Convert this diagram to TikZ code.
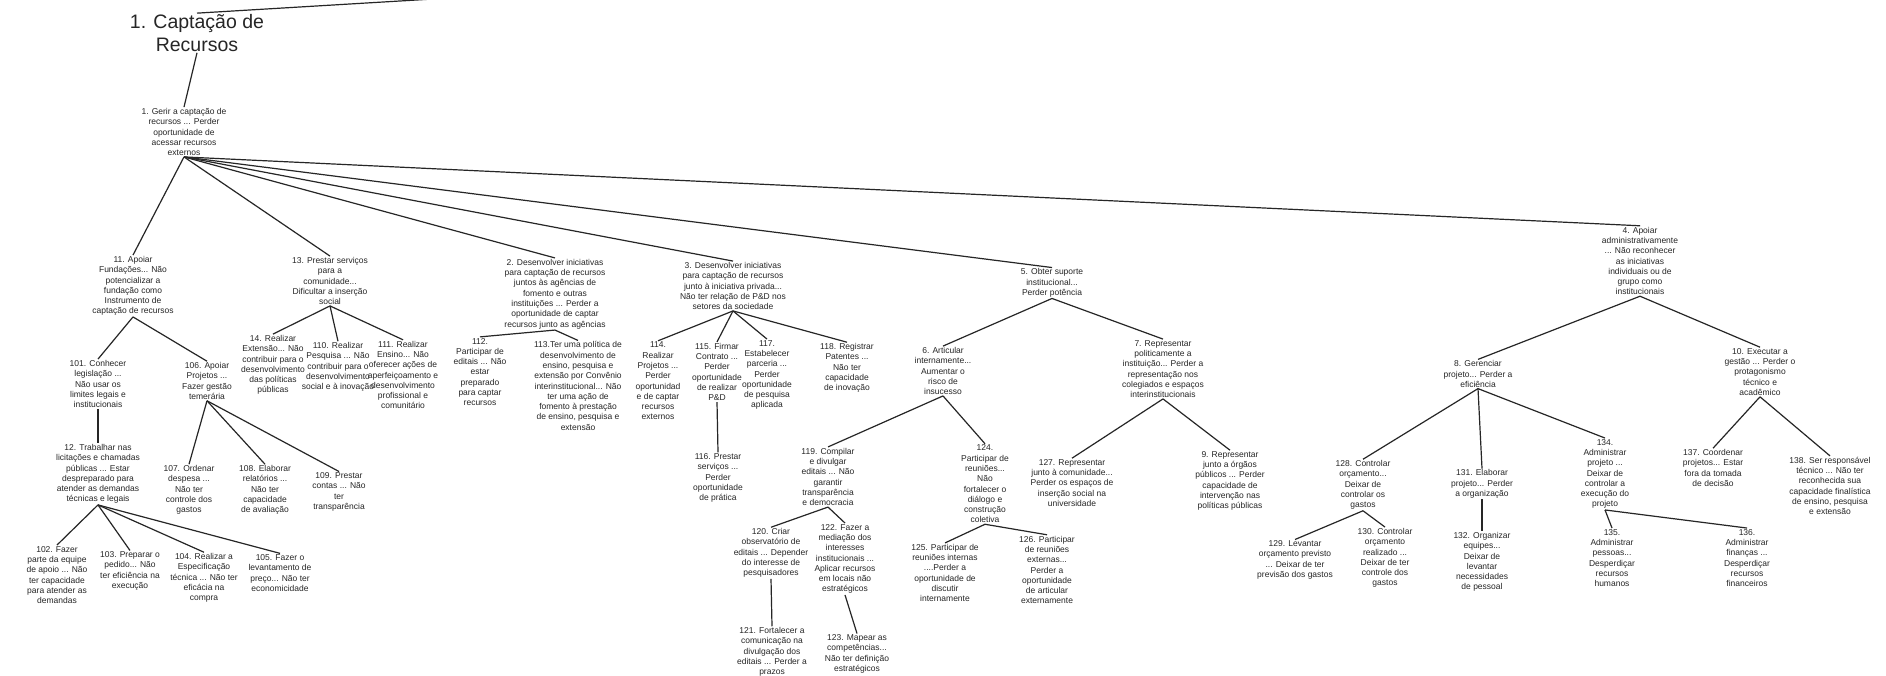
\documentclass[tikz,border=0pt]{standalone}
\usepackage{fontspec}
\setmainfont{Liberation Sans}
\begin{document}
\begin{tikzpicture}[x=1pt,y=-1pt,
  every node/.style={text=black!85},
  box/.style={align=center,font=\fontsize{8.5}{10.3}\selectfont,inner sep=1pt},
  ttl/.style={align=center,font=\fontsize{19.5}{23}\selectfont,inner sep=1pt},
  link/.style={draw=black!85,line width=1.2pt}]
\useasboundingbox (0,0) rectangle (1886,675);
\fill[white] (0,0) rectangle (1886,675);

\node[ttl] (title) at (197,33) {1. Captação de\\Recursos};
\coordinate (up) at (450,-2);

\node[box] (n1) at (184,132) {1. Gerir a captação de\\recursos ... Perder\\oportunidade de\\acessar recursos\\externos};

\node[box] (n11) at (133,286) {11. Apoiar\\Fundações... Não\\potencializar a\\fundação como\\Instrumento de\\captação de recursos};
\node[box] (n13) at (330,281) {13. Prestar serviços\\para a\\comunidade...\\Dificultar a inserção\\social};
\node[box] (n2) at (555,294) {2. Desenvolver iniciativas\\para captação de recursos\\juntos às agências de\\fomento e outras\\instituições ... Perder a\\oportunidade de captar\\recursos junto as agências};
\node[box] (n3) at (733,286) {3. Desenvolver iniciativas\\para captação de recursos\\junto à iniciativa privada...\\Não ter relação de P\&D nos\\setores da sociedade};
\node[box] (n5) at (1052,283) {5. Obter suporte\\institucional...\\Perder potência};
\node[box] (n4) at (1640,261) {4. Apoiar\\administrativamente\\... Não reconhecer\\as iniciativas\\individuais ou de\\grupo como\\institucionais};

\node[box] (n101) at (98,384) {101. Conhecer\\legislação ...\\Não usar os\\limites legais e\\institucionais};
\node[box] (n106) at (207,381) {106. Apoiar\\Projetos ...\\Fazer gestão\\temerária};
\node[box] (n12) at (98,474) {12. Trabalhar nas\\licitações e chamadas\\públicas ... Estar\\despreparado para\\atender as demandas\\técnicas e legais};
\node[box] (n102) at (57,575) {102. Fazer\\parte da equipe\\de apoio ... Não\\ter capacidade\\para atender as\\demandas};
\node[box] (n103) at (130,571) {103. Preparar o\\pedido... Não\\ter eficiência na\\execução};
\node[box] (n104) at (204,578) {104. Realizar a\\Especificação\\técnica ... Não ter\\eficácia na\\compra};
\node[box] (n105) at (280,573) {105. Fazer o\\levantamento de\\preço... Não ter\\economicidade};
\node[box] (n107) at (189,490) {107. Ordenar\\despesa ...\\Não ter\\controle dos\\gastos};
\node[box] (n108) at (265,490) {108. Elaborar\\relatórios ...\\Não ter\\capacidade\\de avaliação};
\node[box] (n109) at (339,492) {109. Prestar\\contas ... Não\\ter\\transparência};

\node[box] (n14) at (273,365) {14. Realizar\\Extensão... Não\\contribuir para o\\desenvolvimento\\das políticas\\públicas};
\node[box] (n110) at (338,367) {110. Realizar\\Pesquisa ... Não\\contribuir para o\\desenvolvimento\\social e à inovação};
\node[box] (n111) at (403,375) {111. Realizar\\Ensino... Não\\oferecer ações de\\aperfeiçoamento e\\desenvolvimento\\profissional e\\comunitário};

\node[box] (n112) at (480,372) {112.\\Participar de\\editais ... Não\\estar\\preparado\\para captar\\recursos};
\node[box] (n113) at (578,386) {113.Ter uma política de\\desenvolvimento de\\ensino, pesquisa e\\extensão por Convênio\\interinstitucional... Não\\ter uma ação de\\fomento à prestação\\de ensino, pesquisa e\\extensão};

\node[box] (n114) at (658,381) {114.\\Realizar\\Projetos ...\\Perder\\oportunidad\\e de captar\\recursos\\externos};
\node[box] (n115) at (717,372) {115. Firmar\\Contrato ...\\Perder\\oportunidade\\de realizar\\P\&D};
\node[box] (n116) at (718,478) {116. Prestar\\serviços ...\\Perder\\oportunidade\\de prática};
\node[box] (n117) at (767,375) {117.\\Estabelecer\\parceria ...\\Perder\\oportunidade\\de pesquisa\\aplicada};
\node[box] (n118) at (847,368) {118. Registrar\\Patentes ...\\Não ter\\capacidade\\de inovação};

\node[box] (n6) at (943,371) {6. Articular\\internamente...\\Aumentar o\\risco de\\insucesso};
\node[box] (n7) at (1163,369) {7. Representar\\politicamente a\\instituição... Perder a\\representação nos\\colegiados e espaços\\interinstitucionais};
\node[box] (n119) at (828,477) {119. Compilar\\e divulgar\\editais ... Não\\garantir\\transparência\\e democracia};
\node[box] (n124) at (985,484) {124.\\Participar de\\reuniões...\\Não\\fortalecer o\\diálogo e\\construção\\coletiva};
\node[box] (n120) at (771,553) {120. Criar\\observatório de\\editais ... Depender\\do interesse de\\pesquisadores};
\node[box] (n122) at (845,559) {122. Fazer a\\mediação dos\\interesses\\institucionais ...\\Aplicar recursos\\em locais não\\estratégicos};
\node[box] (n121) at (772,652) {121. Fortalecer a\\comunicação na\\divulgação dos\\editais ... Perder a\\prazos};
\node[box] (n123) at (857,654) {123. Mapear as\\competências...\\Não ter definição\\estratégicos};
\node[box] (n125) at (945,573) {125. Participar de\\reuniões internas\\....Perder a\\oportunidade de\\discutir\\internamente};
\node[box] (n126) at (1047,570) {126. Participar\\de reuniões\\externas...\\Perder a\\oportunidade\\de articular\\externamente};
\node[box] (n127) at (1072,483) {127. Representar\\junto à comunidade...\\Perder os espaços de\\inserção social na\\universidade};
\node[box] (n9) at (1230,481) {9. Representar\\junto a órgãos\\públicos ... Perder\\capacidade de\\intervenção nas\\políticas públicas};

\node[box] (n8) at (1478,374) {8. Gerenciar\\projeto... Perder a\\eficiência};
\node[box] (n10) at (1760,372) {10. Executar a\\gestão ... Perder o\\protagonismo\\técnico e\\acadêmico};
\node[box] (n128) at (1363,485) {128. Controlar\\orçamento...\\Deixar de\\controlar os\\gastos};
\node[box] (n131) at (1482,484) {131. Elaborar\\projeto... Perder\\a organização};
\node[box] (n134) at (1605,474) {134.\\Administrar\\projeto ...\\Deixar de\\controlar a\\execução do\\projeto};
\node[box] (n129) at (1295,560) {129. Levantar\\orçamento previsto\\... Deixar de ter\\previsão dos gastos};
\node[box] (n130) at (1385,558) {130. Controlar\\orçamento\\realizado ...\\Deixar de ter\\controle dos\\gastos};
\node[box] (n132) at (1482,562) {132. Organizar\\equipes...\\Deixar de\\levantar\\necessidades\\de pessoal};
\node[box] (n135) at (1612,558) {135.\\Administrar\\pessoas...\\Desperdiçar\\recursos\\humanos};
\node[box] (n136) at (1747,558) {136.\\Administrar\\finanças ...\\Desperdiçar\\recursos\\financeiros};
\node[box] (n137) at (1713,468) {137. Coordenar\\projetos... Estar\\fora da tomada\\de decisão};
\node[box] (n138) at (1830,486) {138. Ser responsável\\técnico ... Não ter\\reconhecida sua\\capacidade finalística\\de ensino, pesquisa\\e extensão};

\draw[link] (title.north) -- (up);
\draw[link] (title.south) -- (n1.north);
\foreach \c in {n11,n13,n2,n3,n5,n4} \draw[link] (n1.south) -- (\c.north);
\foreach \p/\c in {n11/n101,n11/n106,n101/n12,n12/n102,n12/n103,n12/n104,n12/n105,
  n106/n107,n106/n108,n106/n109,n13/n14,n13/n110,n13/n111,n2/n112,n2/n113,
  n3/n114,n3/n115,n3/n117,n3/n118,n115/n116,n5/n6,n5/n7,n6/n119,n6/n124,
  n119/n120,n119/n122,n120/n121,n122/n123,n124/n125,n124/n126,n7/n127,n7/n9,
  n4/n8,n4/n10,n8/n128,n8/n131,n8/n134,n128/n129,n128/n130,n131/n132,
  n134/n135,n134/n136,n10/n137,n10/n138}
  \draw[link] (\p.south) -- (\c.north);
\end{tikzpicture}
\end{document}
